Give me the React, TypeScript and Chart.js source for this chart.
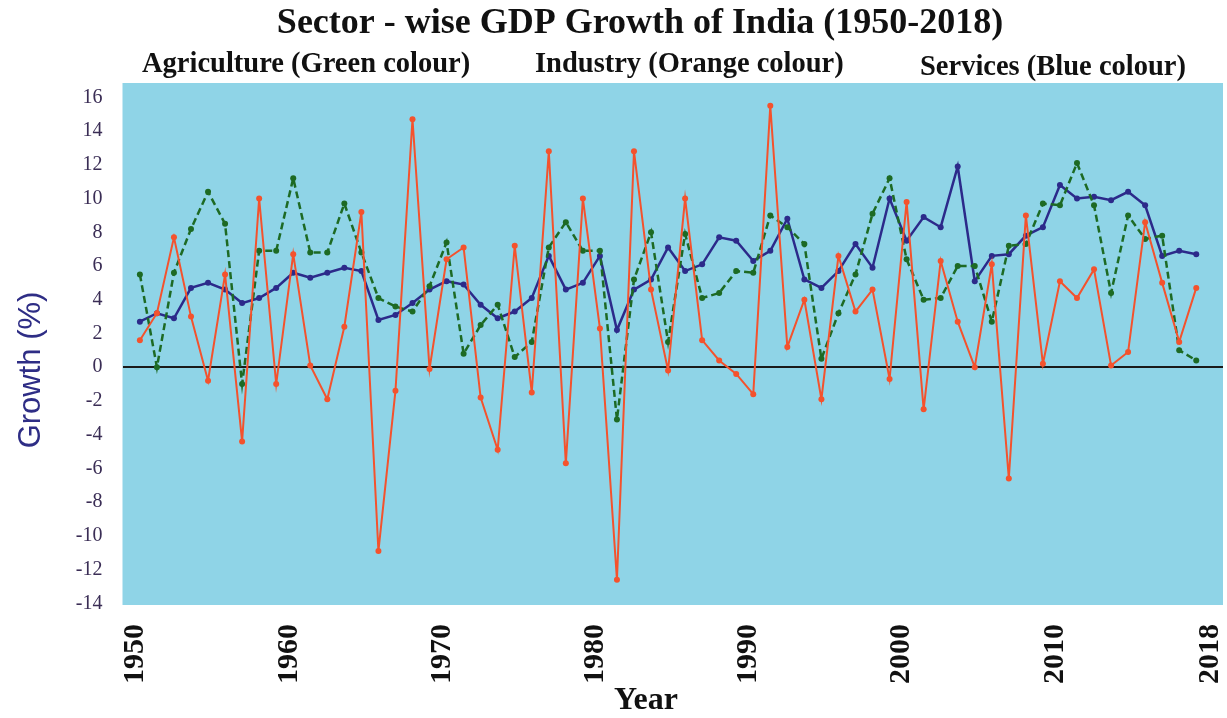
import React, { useEffect, useRef } from "react";
import { Chart, registerables } from "chart.js";

Chart.register(...registerables);

const TITLE = "Sector - wise GDP Growth of India (1950-2018)";
const SECTOR_LABELS = ["Agriculture (Green colour)", "Industry (Orange colour)", "Services (Blue colour)"];
const X_TITLE = "Year";
const Y_TITLE = "Growth (%)";
const YEAR_TICKS = [1950, 1960, 1970, 1980, 1990, 2000, 2010, 2018];
const Y_TICKS = [-14, -12, -10, -8, -6, -4, -2, 0, 2, 4, 6, 8, 10, 12, 14, 16];

const AGRICULTURE = [
  5.5, 0.0, 5.6, 8.2, 10.4, 8.5, -1.0, 6.9, 6.9, 11.2, 6.8, 6.8, 9.7, 6.8, 4.1, 3.6,
  3.3, 4.8, 7.4, 0.8, 2.5, 3.7, 0.6, 1.5, 7.1, 8.6, 6.9, 6.9, -3.1, 5.2, 8.0, 1.5, 7.9,
  4.1, 4.4, 5.7, 5.6, 9.0, 8.3, 7.3, 0.5, 3.2, 5.5, 9.1, 11.2, 6.4, 4.0, 4.1, 6.0,
  6.0, 2.7, 7.2, 7.3, 9.7, 9.6, 12.1, 9.6, 4.4, 9.0, 7.6, 7.8, 1.0, 0.4,
];

const INDUSTRY = [
  1.6, 3.2, 7.7, 3.0, -0.8, 5.5, -4.4, 10.0, -1.0, 6.7, 0.1, -1.9, 2.4, 9.2, -10.9, -1.4,
  14.7, -0.1, 6.4, 7.1, -1.8, -4.9, 7.2, -1.5, 12.8, -5.7, 10.0, 2.3, -12.6, 12.8, 4.6, -0.2, 10.0,
  1.6, 0.4, -0.4, -1.6, 15.5, 1.2, 4.0, -1.9, 6.6, 3.3, 4.6, -0.7, 9.8, -2.5, 6.3, 2.7,
  0.0, 6.1, -6.6, 9.0, 0.2, 5.1, 4.1, 5.8, 0.1, 0.9, 8.6, 5.0, 1.5, 4.7,
];

const SERVICES = [
  2.7, 3.2, 2.9, 4.7, 5.0, 4.6, 3.8, 4.1, 4.7, 5.6, 5.3, 5.6, 5.9, 5.7, 2.8, 3.1,
  3.8, 4.6, 5.1, 4.9, 3.7, 2.9, 3.3, 4.1, 6.6, 4.6, 5.0, 6.6, 2.2, 4.6, 5.2, 7.1, 5.7,
  6.1, 7.7, 7.5, 6.3, 6.9, 8.8, 5.2, 4.7, 5.7, 7.3, 5.9, 10.0, 7.5, 8.9, 8.3, 11.9,
  5.1, 6.6, 6.7, 7.8, 8.3, 10.8, 10.0, 10.1, 9.9, 10.4, 9.6, 6.6, 6.9, 6.7,
];

const SERIF = "'Liberation Serif', 'Times New Roman', serif";
const SANS = "'Liberation Sans', Arial, sans-serif";

export default function App() {
  const ref = useRef<HTMLCanvasElement>(null);

  useEffect(() => {
    document.body.style.margin = "0";
    const canvas = ref.current;
    if (!canvas) return;

    const plotBg = {
      id: "plotBg",
      beforeDraw(chart: any) {
        const { ctx, chartArea } = chart;
        ctx.save();
        ctx.fillStyle = "#8fd4e7";
        ctx.fillRect(chartArea.left, chartArea.top, chartArea.right - chartArea.left, chartArea.bottom - chartArea.top);
        ctx.restore();
      },
    };

    const texts = {
      id: "texts",
      afterDraw(chart: any) {
        const { ctx } = chart;
        ctx.save();
        ctx.fillStyle = "#111111";
        ctx.textBaseline = "alphabetic";
        ctx.textAlign = "center";
        ctx.font = `bold 36px ${SERIF}`;
        ctx.fillText(TITLE, 640, 33);
        ctx.textAlign = "left";
        ctx.font = `bold 28.5px ${SERIF}`;
        ctx.fillText(SECTOR_LABELS[0], 142, 72);
        ctx.fillText(SECTOR_LABELS[1], 535, 72);
        ctx.fillText(SECTOR_LABELS[2], 920, 75);
        ctx.textAlign = "center";
        ctx.font = `bold 32px ${SERIF}`;
        ctx.fillText(X_TITLE, 646, 709);
        ctx.translate(31, 370);
        ctx.rotate(-Math.PI / 2);
        ctx.textBaseline = "middle";
        ctx.fillStyle = "#2e2d85";
        ctx.font = `31px ${SANS}`;
        ctx.fillText(Y_TITLE, 0, 0);
        ctx.restore();
      },
    };

    const toPoints = (arr: number[]) => arr.map((y, i) => ({ x: i, y }));

    const chart = new Chart(canvas, {
      type: "line",
      data: {
        datasets: [
          {
            label: "Industry",
            data: toPoints(INDUSTRY),
            borderColor: "#f4522d",
            backgroundColor: "#f4522d",
            borderWidth: 2,
            pointRadius: 3,
            pointBorderWidth: 0,
            tension: 0,
          },
          {
            label: "Agriculture",
            data: toPoints(AGRICULTURE),
            borderColor: "#1d6a24",
            backgroundColor: "#1d6a24",
            borderWidth: 2.5,
            borderDash: [7, 4],
            pointRadius: 3,
            pointBorderWidth: 0,
            tension: 0,
          },
          {
            label: "Services",
            data: toPoints(SERVICES),
            borderColor: "#2c2a8a",
            backgroundColor: "#2c2a8a",
            borderWidth: 2.5,
            pointRadius: 3,
            pointBorderWidth: 0,
            tension: 0,
          },
        ],
      },
      options: {
        responsive: false,
        animation: false,
        layout: { padding: { top: 83, right: 1, left: 0, bottom: 0 } },
        plugins: {
          legend: { display: false },
          tooltip: { enabled: false },
          title: { display: false },
        },
        scales: {
          x: {
            type: "linear",
            display: false,
            min: -1.02,
            max: 63.57,
          },
          x2: {
            type: "linear",
            position: "bottom",
            min: 1949.14,
            max: 2020.98,
            grid: { display: false, drawTicks: false },
            border: { display: false },
            afterBuildTicks: (axis: any) => {
              const last = YEAR_TICKS.length - 1;
              axis.ticks = YEAR_TICKS.map((v, i) => ({ value: i === last ? axis.max - 0.85 : v }));
            },
            afterFit: (axis: any) => {
              axis.height = 113;
              axis.paddingLeft = 0;
              axis.paddingRight = 0;
            },
            ticks: {
              autoSkip: false,
              minRotation: 90,
              maxRotation: 90,
              padding: 19,
              color: "#111111",
              font: { family: SERIF, size: 30, weight: "bold" },
              callback: (_v: any, i: number) => String(YEAR_TICKS[i]),
            },
          },
          y: {
            type: "linear",
            min: -14.1,
            max: 16.85,
            border: { display: false },
            grid: {
              drawTicks: false,
              color: (ctx: any) => (ctx.tick && ctx.tick.value === 0 ? "#1a1a1a" : "rgba(0,0,0,0)"),
              lineWidth: 2,
            },
            afterBuildTicks: (axis: any) => {
              axis.ticks = Y_TICKS.map((v) => ({ value: v }));
            },
            afterFit: (axis: any) => {
              axis.width = 122.5;
              axis.paddingTop = 0;
              axis.paddingBottom = 0;
            },
            ticks: {
              padding: 20,
              color: "#3a2d55",
              font: { family: SERIF, size: 20 },
              callback: (v: any) => String(v),
            },
          },
        },
      },
      plugins: [plotBg, texts],
    });

    return () => chart.destroy();
  }, []);

  return (
    <div style={{ width: 1227, height: 718 }}>
      <canvas ref={ref} width={1227} height={718} style={{ display: "block" }} />
    </div>
  );
}
